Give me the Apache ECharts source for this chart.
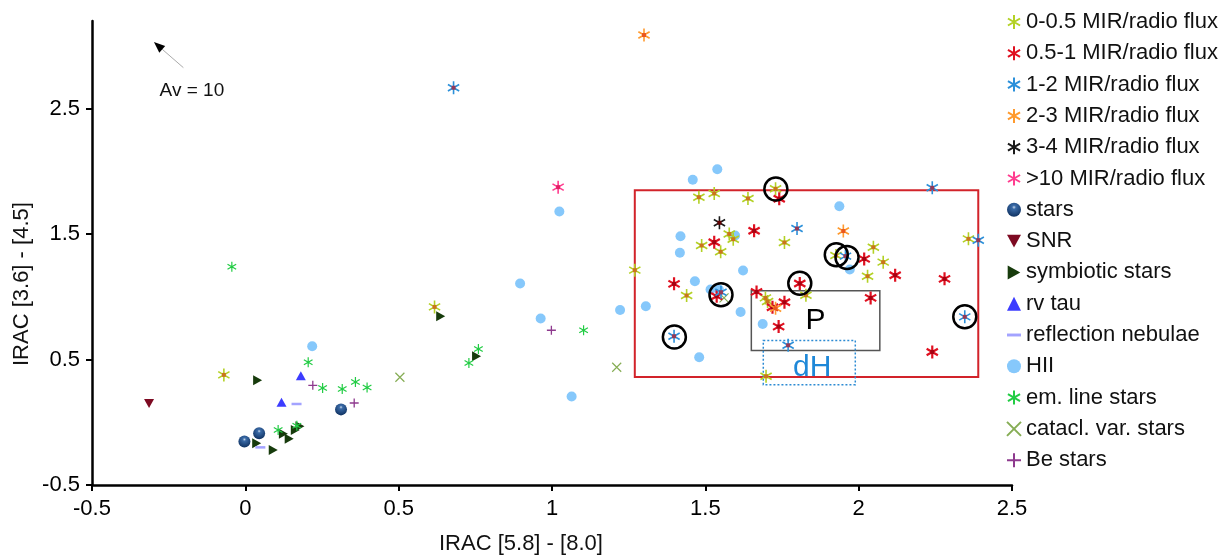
<!DOCTYPE html>
<html>
<head>
<meta charset="utf-8">
<script src="https://cdn.jsdelivr.net/npm/echarts@6/dist/echarts.min.js"></script>
<style>
  html, body { margin: 0; padding: 0; background: #fff; }
  #main { width: 1226px; height: 558px; }
</style>
</head>
<body>
<div id="main"></div>
<script>
// tick labels
var yTicks = [-0.5, 0.5, 1.5, 2.5];

// MIR/radio flux classes  [IRAC 5.8-8.0, IRAC 3.6-4.5]
var mir0 = [[-0.07,0.378],[0.617,0.92],[1.27,1.213],[1.439,1.011],[1.479,1.795],[1.529,1.825],[1.639,1.785],
  [1.729,1.862],[1.578,1.502],[1.591,1.46],[1.488,1.41],[1.55,1.36],[1.758,1.434],[1.696,0.992],[1.703,0.963],
  [1.828,1.013],[1.698,0.367],[2.048,1.396],[2.358,1.463],[1.926,1.33],[2.08,1.277],[2.029,1.165]];
var mir1 = [[1.398,1.104],[1.741,1.782],[1.659,1.527],[1.529,1.436],[1.808,1.107],[1.537,1.005],[1.667,1.04],
  [1.758,0.957],[1.719,0.917],[1.739,0.763],[2.018,1.303],[2.119,1.173],[2.28,1.144],[2.039,0.992],[2.24,0.561]];
var mir2 = [[0.679,2.668],[1.398,0.686],[1.551,1.037],[1.799,1.545],[1.77,0.614],[2.24,1.87],[2.39,1.452],
  [1.957,1.325],[2.346,0.841]];
var mir3 = [[1.3,3.088],[1.729,0.909],[1.95,1.525]];
var mir4 = [[1.546,1.591]];
var mir10 = [[1.02,1.875]];

// other object classes
var stars = [[0.312,0.103],[0.045,-0.088],[-0.003,-0.154]];
var snr = [[-0.314,0.149]];
var symbiotic = [[0.04,0.335],[0.124,-0.091],[0.143,-0.131],[0.163,-0.061],[0.178,-0.032],[0.037,-0.168],
  [0.091,-0.221],[0.637,0.846],[0.754,0.527]];
var rvTau = [[0.181,0.372],[0.118,0.159]];
var reflection = [[0.167,0.146],[0.049,-0.2]];
var hii = [[0.218,0.606],[0.896,1.107],[0.963,0.827],[1.064,0.205],[1.222,0.896],[1.306,0.926],[1.466,1.125],
  [1.48,0.518],[1.417,1.352],[1.539,2.018],[1.459,1.934],[1.597,1.49],[1.419,1.484],[1.623,1.21],[1.517,1.059],
  [1.544,1.059],[1.615,0.88],[1.687,0.784],[1.937,1.723],[1.971,1.218],[1.024,1.681]];
var emLine = [[-0.044,1.24],[0.205,0.478],[0.252,0.274],[0.316,0.266],[0.359,0.322],[0.397,0.277],[0.107,-0.061],
  [0.168,-0.027],[0.76,0.585],[0.729,0.473],[1.103,0.734]];
var catacl = [[0.504,0.359],[1.211,0.439],[1.561,0.992]];
var beStars = [[0.22,0.295],[0.355,0.154],[0.998,0.734]];

// circled sources
var circled = [[1.399,0.68],[1.551,1.017],[1.73,1.86],[1.808,1.109],[1.927,1.336],[1.962,1.315],[2.346,0.841]];

// boxes: [x1, y1, x2, y2]
var boxRed = [1.27, 1.851, 2.39, 0.362];
var boxP = [1.65, 1.048, 2.069, 0.572];
var boxDH = [1.689, 0.652, 1.989, 0.3];

// extinction arrow
var avFrom = [-0.202, 2.828];
var avTo = [-0.298, 3.032];
var avText = [-0.172, 2.641];

var FONT = '"Liberation Sans", Arial, Helvetica, sans-serif';
var ASTER = 'path://M10 0L10 20M1.34 5L18.66 15M1.34 15L18.66 5';
var XMARK = 'path://M0 0L10 10M0 10L10 0';
var PLUS = 'path://M5 0L5 10M0 5L10 5';
var TRI_DOWN = 'path://M0 0L10 0L5 9Z';
var TRI_RIGHT = 'path://M0 0L9 5L0 10Z';
var DASH = 'path://M0 0L12 0L12 2.5L0 2.5Z';

// asterisk plus a small filled square drawn on top of it
function mir(name, data, line, fill, w, z) {
  return [{
    name: name, type: 'scatter', data: data, symbol: ASTER, symbolSize: 13, symbolKeepAspect: true, z: z,
    itemStyle: { color: line, borderColor: line, borderWidth: w, opacity: 1 }
  }, {
    name: name + ' core', type: 'scatter', data: data, symbol: 'rect', symbolSize: 4, z: z, silent: true,
    itemStyle: { color: fill, opacity: 0.9 }
  }];
}

var chart = echarts.init(document.getElementById('main'));

var series = [
  { name: 'HII', type: 'scatter', data: hii, symbol: 'circle', symbolSize: 10, z: 2,
    itemStyle: { color: '#86c8fb', opacity: 1 } },
  { name: 'stars', type: 'scatter', data: stars, symbol: 'circle', symbolSize: 12, z: 3,
    itemStyle: { opacity: 1, color: { type: 'radial', x: 0.5, y: 0.32, r: 0.7,
      colorStops: [{ offset: 0, color: '#c9d8ea' }, { offset: 0.2, color: '#3a6aa6' }, { offset: 1, color: '#0d2f5e' }] } } },
  { name: 'SNR', type: 'scatter', data: snr, symbol: TRI_DOWN, symbolSize: [10, 9], z: 3,
    itemStyle: { color: '#7d0a22', opacity: 1 } },
  { name: 'symbiotic stars', type: 'scatter', data: symbiotic, symbol: TRI_RIGHT, symbolSize: [9, 10], z: 3,
    itemStyle: { color: '#173b0c', opacity: 1 } },
  { name: 'rv tau', type: 'scatter', data: rvTau, symbol: 'triangle', symbolSize: [10, 9], z: 3,
    itemStyle: { color: '#3c3cff', opacity: 1 } },
  { name: 'reflection nebulae', type: 'scatter', data: reflection, symbol: 'rect', symbolSize: [10, 2.5], z: 3,
    itemStyle: { color: '#a3a3ff', opacity: 1 } },
  { name: 'em. line stars', type: 'scatter', data: emLine, symbol: ASTER, symbolSize: 10, symbolKeepAspect: true, z: 3,
    itemStyle: { color: '#22cc44', borderColor: '#22cc44', borderWidth: 1.2, opacity: 1 } },
  { name: 'catacl. var. stars', type: 'scatter', data: catacl, symbol: XMARK, symbolSize: 9, z: 3,
    itemStyle: { color: '#86ad55', borderColor: '#86ad55', borderWidth: 1.2, opacity: 1 } },
  { name: 'Be stars', type: 'scatter', data: beStars, symbol: PLUS, symbolSize: 9, z: 3,
    itemStyle: { color: '#8e3a8e', borderColor: '#8e3a8e', borderWidth: 1.3, opacity: 1 } }
].concat(
  mir('0-0.5 MIR/radio flux', mir0, '#b3d124', '#cc6a1c', 1.6, 4),
  mir('0.5-1 MIR/radio flux', mir1, '#e01020', '#a00010', 2.2, 5),
  mir('1-2 MIR/radio flux', mir2, '#2b90da', '#a03048', 1.6, 5),
  mir('2-3 MIR/radio flux', mir3, '#ff9a2e', '#e8501e', 1.6, 5),
  mir('3-4 MIR/radio flux', mir4, '#1a1a1a', '#6a0000', 1.6, 5),
  mir('>10 MIR/radio flux', mir10, '#ff3d8f', '#e01a60', 1.6, 5),
  [{ name: 'circled', type: 'scatter', data: circled, symbol: 'circle', symbolSize: 23, z: 6,
    itemStyle: { color: 'rgba(0,0,0,0)', borderColor: '#000', borderWidth: 2.5, opacity: 1 },
    markArea: {
      silent: true,
      data: [
        [{ coord: [boxRed[0], boxRed[1]], itemStyle: { color: 'rgba(0,0,0,0)', borderColor: '#d2232a', borderWidth: 2 }, label: { show: false } },
         { coord: [boxRed[2], boxRed[3]] }],
        [{ name: 'P', coord: [boxP[0], boxP[1]], itemStyle: { color: 'rgba(0,0,0,0)', borderColor: '#555', borderWidth: 1.5 },
           label: { show: true, position: 'inside', color: '#000', fontSize: 30, fontFamily: FONT } },
         { coord: [boxP[2], boxP[3]] }],
        [{ name: 'dH', coord: [boxDH[0], boxDH[1]], itemStyle: { color: 'rgba(0,0,0,0)', borderColor: '#2d8bd3', borderWidth: 1.5, borderType: [2, 2] },
           label: { show: true, position: 'inside', color: '#1e88d8', fontSize: 30, fontFamily: FONT, offset: [3, 5] } },
         { coord: [boxDH[2], boxDH[3]] }]
      ]
    } }]
);

chart.setOption({
  animation: false,
  grid: { left: 92, right: 214, top: 21, bottom: 73, containLabel: false, outerBoundsMode: 'none' },
  xAxis: {
    type: 'value', min: -0.5, max: 2.5, interval: 0.5,
    axisLine: { show: true, onZero: false, lineStyle: { color: '#000', width: 2.5 } },
    axisTick: { show: true, length: 6, lineStyle: { color: '#000', width: 2 } },
    axisLabel: { color: '#000', fontSize: 22, fontFamily: FONT, margin: 13 },
    splitLine: { show: false }
  },
  yAxis: {
    type: 'value', min: -0.5, max: 3.2,
    axisLine: { show: true, onZero: false, lineStyle: { color: '#000', width: 2.5 } },
    axisTick: { show: true, length: 6, customValues: yTicks, lineStyle: { color: '#000', width: 2 } },
    axisLabel: { color: '#000', fontSize: 22, fontFamily: FONT, margin: 12, customValues: yTicks },
    splitLine: { show: false }
  },
  legend: {
    orient: 'vertical', left: 1001, top: 6, itemWidth: 14, itemHeight: 14, itemGap: 9.3,
    selectedMode: false,
    textStyle: { fontSize: 22, color: '#111', fontFamily: FONT, lineHeight: 22 },
    data: [
      { name: '0-0.5 MIR/radio flux', icon: ASTER },
      { name: '0.5-1 MIR/radio flux', icon: ASTER },
      { name: '1-2 MIR/radio flux', icon: ASTER },
      { name: '2-3 MIR/radio flux', icon: ASTER },
      { name: '3-4 MIR/radio flux', icon: ASTER },
      { name: '>10 MIR/radio flux', icon: ASTER },
      { name: 'stars', icon: 'circle' },
      { name: 'SNR', icon: TRI_DOWN },
      { name: 'symbiotic stars', icon: TRI_RIGHT },
      { name: 'rv tau', icon: 'triangle' },
      { name: 'reflection nebulae', icon: DASH },
      { name: 'HII', icon: 'circle' },
      { name: 'em. line stars', icon: ASTER },
      { name: 'catacl. var. stars', icon: XMARK },
      { name: 'Be stars', icon: PLUS }
    ]
  },
  series: series
});

// axis titles and the extinction arrow
var p0 = chart.convertToPixel({ gridIndex: 0 }, avFrom);
var p1 = chart.convertToPixel({ gridIndex: 0 }, avTo);
var pt = chart.convertToPixel({ gridIndex: 0 }, avText);
var dx = p1[0] - p0[0], dy = p1[1] - p0[1];
var len = Math.sqrt(dx * dx + dy * dy);
var ux = dx / len, uy = dy / len;
var bx = p1[0] - ux * 11, by = p1[1] - uy * 11;

chart.setOption({
  graphic: [
    { type: 'text', left: 439, top: 533, style: { text: 'IRAC [5.8] - [8.0]', fill: '#111', font: '22px ' + FONT } },
    { type: 'text', x: 11, y: 366, rotation: Math.PI / 2, style: { text: 'IRAC [3.6] - [4.5]', fill: '#111', font: '22px ' + FONT } },
    { type: 'line', shape: { x1: p0[0], y1: p0[1], x2: bx, y2: by }, style: { stroke: '#aaa', lineWidth: 1 } },
    { type: 'polygon', shape: { points: [[p1[0], p1[1]], [bx - uy * 4.5, by + ux * 4.5], [bx + uy * 4.5, by - ux * 4.5]] },
      style: { fill: '#000' } },
    { type: 'text', x: pt[0] - 33, y: pt[1] - 10, style: { text: 'Av = 10', fill: '#111', font: '19px ' + FONT } }
  ]
});
</script>
</body>
</html>
